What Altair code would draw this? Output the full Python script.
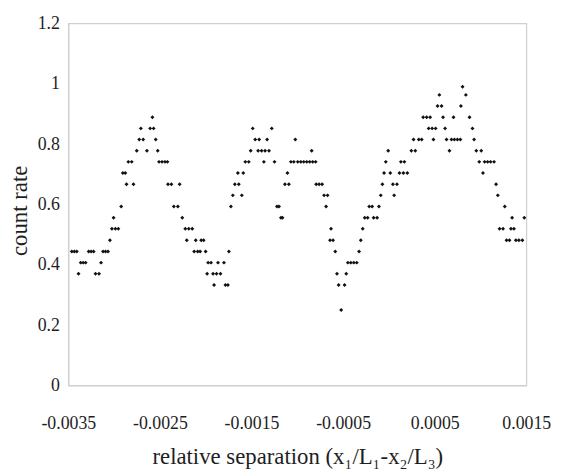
import altair as alt
import pandas as pd

# relative separation (x1/L1 - x2/L3), left to right
sep_a = [-0.003462, -0.003435, -0.003408, -0.003389, -0.003365, -0.003338, -0.003311,
         -0.003278, -0.003251, -0.003224, -0.003203, -0.003165, -0.003143, -0.003121,
         -0.003094, -0.003067, -0.003046, -0.003024, -0.002986, -0.002954, -0.003006,
         -0.002923, -0.002905, -0.002878, -0.002865, -0.002789, -0.002845, -0.002808]
rate_a = [0.444, 0.444, 0.444, 0.370, 0.407, 0.407, 0.407,
          0.444, 0.444, 0.444, 0.370, 0.370, 0.407, 0.444,
          0.444, 0.444, 0.481, 0.519, 0.519, 0.519, 0.556,
          0.593, 0.704, 0.704, 0.667, 0.667, 0.741, 0.741]

sep_b = [-0.002753, -0.002642, -0.002524, -0.002726, -0.002683, -0.002546, -0.002708,
         -0.002607, -0.002569, -0.002582, -0.002510, -0.002477, -0.002445, -0.002418,
         -0.002412, -0.002375, -0.002285, -0.002348, -0.002304, -0.002256, -0.002223,
         -0.002185, -0.002147, -0.002207, -0.002109, -0.002050, -0.002023, -0.002126,
         -0.002088, -0.002061, -0.002001, -0.001974, -0.001942, -0.001866, -0.001801,
         -0.001985, -0.001920, -0.001882, -0.001839, -0.001909, -0.001785, -0.001758,
         -0.001747]
rate_b = [0.778, 0.778, 0.778, 0.815, 0.815, 0.815, 0.852,
          0.852, 0.852, 0.889, 0.741, 0.741, 0.741, 0.741,
          0.667, 0.667, 0.667, 0.593, 0.593, 0.556, 0.519,
          0.519, 0.519, 0.481, 0.481, 0.481, 0.481, 0.444,
          0.444, 0.444, 0.444, 0.407, 0.407, 0.407, 0.407,
          0.370, 0.370, 0.370, 0.370, 0.333, 0.333, 0.333,
          0.444]

sep_c = [-0.001725, -0.001704, -0.001606, -0.001682, -0.001639, -0.001649, -0.001590,
         -0.001568, -0.001530, -0.001509, -0.001487, -0.001460, -0.001417, -0.001428,
         -0.001390, -0.001352, -0.001309, -0.001365, -0.001330, -0.001279, -0.001249,
         -0.001222, -0.001200, -0.001179, -0.001162, -0.001135, -0.001092, -0.001108,
         -0.001070, -0.001038, -0.000995, -0.000962, -0.000930, -0.000897, -0.000865,
         -0.000832, -0.000800, -0.001022, -0.000843, -0.000794, -0.000762, -0.000729,
         -0.000708, -0.000670, -0.000686, -0.000632, -0.000643, -0.000610, -0.000586,
         -0.000567, -0.000466, -0.000549, -0.000484, -0.000521, -0.000448, -0.000416,
         -0.000383, -0.000351]
rate_c = [0.593, 0.630, 0.630, 0.667, 0.667, 0.704, 0.704,
          0.741, 0.741, 0.778, 0.852, 0.815, 0.815, 0.778,
          0.778, 0.778, 0.778, 0.741, 0.815, 0.852, 0.741,
          0.593, 0.593, 0.556, 0.556, 0.667, 0.667, 0.704,
          0.741, 0.741, 0.741, 0.741, 0.741, 0.741, 0.741,
          0.741, 0.741, 0.815, 0.778, 0.667, 0.667, 0.667,
          0.630, 0.630, 0.593, 0.519, 0.481, 0.481, 0.444,
          0.370, 0.370, 0.333, 0.333, 0.250, 0.407, 0.407,
          0.407, 0.407]

sep_d = [-0.000326, -0.000307, -0.000286, -0.000264, -0.000232, -0.000167, -0.000129,
         -0.000215, -0.000183, -0.000109, -0.000089, 0.000057, -0.000071, 0.000044,
         0.000088, -0.000053, 0.000015, 0.000115, 0.000158, 0.000201, -0.000034,
         0.000131, 0.000169, -0.000008, 0.000245, 0.000288, 0.000269, 0.000326,
         0.000358, 0.000374, 0.000412, 0.000450, 0.000434, 0.000472, 0.000510,
         0.000486, 0.000531, 0.000575, 0.000551, 0.000591, 0.000613, 0.000629,
         0.000661, 0.000683, 0.000715, 0.000748, 0.000780, 0.000705, 0.000786,
         0.000804, 0.000840, 0.000880, 0.000912, 0.000930, 0.000954, 0.001008,
         0.000986, 0.001045, 0.001078, 0.001110, 0.001148, 0.001027, 0.001170,
         0.001189, 0.001208, 0.001246, 0.001265, 0.001284, 0.001316, 0.001345,
         0.001478, 0.001332, 0.001365, 0.001386, 0.001419, 0.001457]
rate_d = [0.444, 0.481, 0.519, 0.556, 0.556, 0.556, 0.556,
          0.593, 0.593, 0.593, 0.630, 0.630, 0.667, 0.667,
          0.667, 0.704, 0.704, 0.704, 0.704, 0.704, 0.741,
          0.741, 0.741, 0.778, 0.778, 0.778, 0.815, 0.815,
          0.815, 0.889, 0.889, 0.889, 0.852, 0.852, 0.852,
          0.815, 0.926, 0.926, 0.963, 0.889, 0.852, 0.815,
          0.778, 0.815, 0.815, 0.815, 0.815, 0.889, 0.926,
          0.990, 0.963, 0.889, 0.852, 0.815, 0.778, 0.778,
          0.741, 0.741, 0.741, 0.741, 0.741, 0.704, 0.667,
          0.630, 0.519, 0.519, 0.593, 0.481, 0.481, 0.556,
          0.556, 0.519, 0.519, 0.481, 0.481, 0.481]

x_ticks = [-0.0035, -0.0025, -0.0015, -0.0005, 0.0005, 0.0015]
y_ticks = [0, 0.2, 0.4, 0.6, 0.8, 1, 1.2]

df = pd.DataFrame({
    "sep": sep_a + sep_b + sep_c + sep_d,
    "rate": rate_a + rate_b + rate_c + rate_d,
})

FONT = "Liberation Serif"

chart = (
    alt.Chart(df)
    .mark_point(shape="diamond", filled=True, size=16, color="#111111", opacity=1)
    .encode(
        x=alt.X(
            "sep:Q",
            scale=alt.Scale(domain=[-0.0035, 0.0015], nice=False, zero=False),
            axis=alt.Axis(
                values=x_ticks,
                labelExpr="'' + datum.value",
                title="relative separation (x\u2081/L\u2081-x\u2082/L\u2083)",
                labelPadding=30,
                labelFont=FONT,
                titleY=79,
                titleBaseline="alphabetic",
                titleFontSize=23,
            ),
        ),
        y=alt.Y(
            "rate:Q",
            scale=alt.Scale(domain=[0, 1.2], nice=False),
            axis=alt.Axis(
                values=y_ticks,
                labelExpr="'' + datum.value",
                title="count rate",
                labelPadding=9,
                labelFont=FONT,
                titleX=-42,
                titleY=189,
                titleBaseline="alphabetic",
                titleFontSize=23,
            ),
        ),
    )
    .properties(
        width=463,
        height=366,
        autosize="none",
        padding={"left": 61, "top": 13, "right": 28, "bottom": 88},
    )
    .configure(background="white", font=FONT)
    .configure_axis(
        labelFont=FONT,
        titleFont=FONT,
        labelFontSize=18,
        titleFontWeight="normal",
        labelColor="#1e1e1e",
        titleColor="#1e1e1e",
        grid=False,
        ticks=False,
        domain=True,
        domainColor="#cfcfcf",
        labelFlush=False,
    )
    .configure_view(stroke="#cfcfcf", strokeWidth=1.2)
)

chart.save("out.html", embed_options={"renderer": "svg", "actions": False})
